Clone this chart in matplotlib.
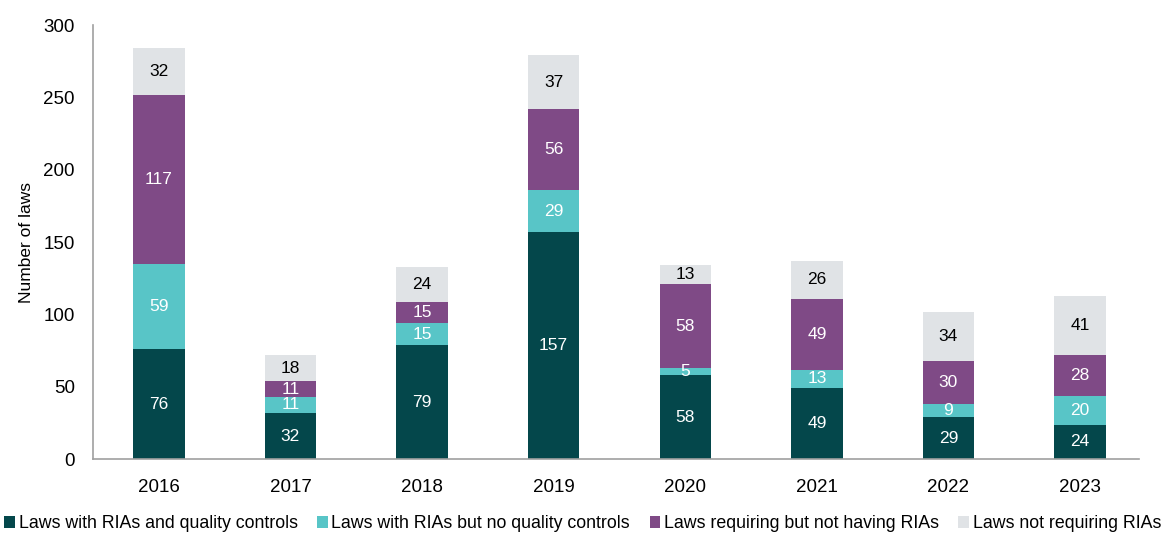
import matplotlib
matplotlib.use("Agg")
import matplotlib.pyplot as plt
import numpy as np

plt.rcParams['font.family'] = ['Liberation Sans', 'DejaVu Sans']

years = ['2016', '2017', '2018', '2019', '2020', '2021', '2022', '2023']
ria_qc = [76, 32, 79, 157, 58, 49, 29, 24]
ria_no_qc = [59, 11, 15, 29, 5, 13, 9, 20]
req_no_ria = [117, 11, 15, 56, 58, 49, 30, 28]
not_req = [32, 18, 24, 37, 13, 26, 34, 41]

series = [
    ('Laws with RIAs and quality controls', ria_qc, '#04474b', 'white'),
    ('Laws with RIAs but no quality controls', ria_no_qc, '#58c5c7', 'white'),
    ('Laws requiring but not having RIAs', req_no_ria, '#7f4a86', 'white'),
    ('Laws not requiring RIAs', not_req, '#e0e3e6', 'black'),
]

fig = plt.figure(figsize=(11.69, 5.34), dpi=100)
ax = fig.add_axes([0.0796, 0.14, 0.895, 0.813])

# stacked bars, each segment labelled with its value
x = np.arange(len(years))
bottom = np.zeros(len(years))
for name, vals, color, tcolor in series:
    vals = np.array(vals, dtype=float)
    ax.bar(x, vals, 0.39, bottom=bottom, color=color, label=name)
    for xi, b, v in zip(x, bottom, vals):
        ax.text(xi, b + v / 2, str(int(v)), ha='center', va='center',
                fontsize=12.5, color=tcolor)
    bottom += vals

ax.set_xlim(-0.5, 7.45)
ax.set_ylim(0, 300)
ax.set_yticks(range(0, 301, 50))
ax.set_xticks(x)
ax.set_xticklabels(years)
ax.tick_params(length=0, labelsize=13.5)
ax.tick_params(axis='x', pad=14)
ax.tick_params(axis='y', pad=13)
ax.set_ylabel('Number of laws', fontsize=12.5, labelpad=7)
for s in ['top', 'right']:
    ax.spines[s].set_visible(False)
for s in ['left', 'bottom']:
    ax.spines[s].set_color('#a0a0a0')
    ax.spines[s].set_linewidth(1.2)

ax.legend(loc='upper center', bbox_to_anchor=(0.468, -0.113), ncol=4,
          frameon=False, fontsize=12.8, handlelength=0.6, handleheight=0.7,
          handletextpad=0.2, columnspacing=1.1, borderaxespad=0)

fig.savefig('out.png', dpi=100)
